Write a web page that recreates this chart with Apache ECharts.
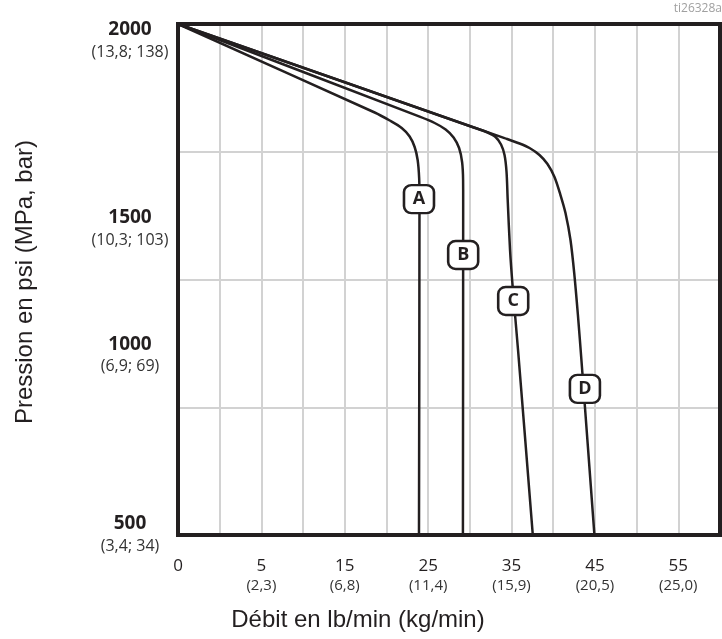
<!DOCTYPE html>
<html>
<head>
<meta charset="utf-8">
<script src="https://cdn.jsdelivr.net/npm/echarts@6/dist/echarts.min.js"></script>
<style>html,body{margin:0;padding:0;background:#fff;}#c{width:722px;height:639px;}</style>
</head>
<body>
<div id="c"></div>
<script>
// Flow (lb/min, axis value; the first gridline is labelled "0") vs pressure (psi)
const curveA = [[-5,2000],[18.59,1740.2],[20.39,1716.7],[21.83,1694.7],[22.78,1669.8],[23.38,1638.9],[23.74,1600.8],[23.92,1547.9],[23.96,1483.4],[23.9,500]];
const curveB = [[-5,2000],[23.98,1727.9],[25.78,1709.4],[27.1,1690.3],[28.05,1666.8],[28.71,1636],[29.07,1594.9],[29.19,1542.1],[29.2,1483.4],[29.17,500]];
const curveC = [[-5,2000],[30.57,1695.6],[32.13,1681.5],[33.08,1668.3],[33.74,1646.3],[34.16,1615.5],[34.4,1565.6],[34.54,1483.4],[34.82,1336.6],[35.12,1233.9],[35.78,1043.1],[37.55,500]];
const curveD = [[-5,2000],[30.57,1695.6],[34.16,1665.1],[35.96,1649.2],[37.16,1636],[38.35,1615.5],[39.31,1589],[40.15,1550.9],[40.87,1498],[41.47,1445.2],[42.07,1365.9],[42.54,1263.2],[42.96,1145.8],[43.38,1013.7],[44.16,758.3],[44.94,500]];
const curveNames = ['A','B','C','D'];
const curveLabelAt = [[23.9,1486],[29.2,1322],[35.2,1187],[43.8,929]];

const xTickAt = [-5,5,15,25,35,45,55];
const xTickLabels = ['0','5','15','25','35','45','55'];
const xTickMetric = ['','(2,3)','(6,8)','(11,4)','(15,9)','(20,5)','(25,0)'];

const yTickAt = [1950,1398,1028,500];
const yTickLabels = ['2000','1500','1000','500'];
const yTickMetric = ['(13,8; 138)','(10,3; 103)','(6,9; 69)','(3,4; 34)'];

const INK = '#231f20';
const FONT = '"Open Sans", sans-serif';
const chart = echarts.init(document.getElementById('c'), null, {renderer:'canvas'});

const curves = [curveA, curveB, curveC, curveD];
const series = curves.map((d, i) => ({
  type: 'line', name: curveNames[i], data: d, xAxisIndex: 0, yAxisIndex: 1,
  showSymbol: false, smooth: 0.3, z: 3,
  lineStyle: {color: INK, width: 2.5}
}));
series.push({
  type: 'scatter', xAxisIndex: 0, yAxisIndex: 1, z: 5,
  symbol: 'roundRect', symbolSize: [30, 28],
  itemStyle: {color: '#ffffff', borderColor: INK, borderWidth: 2.5, opacity: 1},
  data: curveLabelAt.map((p, i) => ({value: p, name: curveNames[i]})),
  label: {
    show: true, position: 'inside', formatter: p => p.name,
    fontFamily: FONT, fontWeight: 'bold', fontSize: 18, color: INK,
    textBorderWidth: 0
  },
  emphasis: {disabled: true}
});

chart.setOption({
  animation: false,
  backgroundColor: '#fff',
  grid: {left: 178, top: 24, width: 542, height: 511, show: true, borderColor: INK, borderWidth: 4, backgroundColor: 'transparent', z: 4},
  xAxis: [{
    type: 'value', min: -5, max: 60, interval: 5,
    axisLine: {show: false}, axisTick: {show: false},
    splitLine: {show: true, showMinLine: false, showMaxLine: false, lineStyle: {color: '#d2d2d2', width: 2}},
    axisLabel: {
      customValues: xTickAt, margin: 21, color: INK, fontFamily: FONT,
      formatter: v => {
        const i = xTickAt.indexOf(v);
        if (i < 0) return '';
        return xTickMetric[i] ? '{n|' + xTickLabels[i] + '}\n{m|' + xTickMetric[i] + '}' : '{n|' + xTickLabels[i] + '}';
      },
      rich: {
        n: {fontSize: 17, lineHeight: 20, color: INK, fontFamily: FONT},
        m: {fontSize: 15, lineHeight: 19, color: '#333', fontFamily: FONT}
      }
    }
  }],
  yAxis: [{
    type: 'value', min: 0, max: 4, interval: 1,
    axisLine: {show: false}, axisTick: {show: false}, axisLabel: {show: false},
    splitLine: {show: true, showMinLine: false, showMaxLine: false, lineStyle: {color: '#d2d2d2', width: 2}}
  }, {
    type: 'value', min: 500, max: 2000, position: 'left',
    axisLine: {show: false}, axisTick: {show: false}, splitLine: {show: false},
    axisLabel: {
      customValues: yTickAt, margin: 48, align: 'center', color: INK, fontFamily: FONT,
      formatter: v => {
        const i = yTickAt.indexOf(v);
        if (i < 0) return '';
        return '{b|' + yTickLabels[i] + '}\n{m|' + yTickMetric[i] + '}';
      },
      rich: {
        b: {fontSize: 19, fontWeight: 'bold', lineHeight: 22, color: INK, fontFamily: FONT, align: 'center'},
        m: {fontSize: 16, lineHeight: 22, color: '#333', fontFamily: FONT, align: 'center'}
      }
    }
  }],
  series: series,
  graphic: [
    {type: 'text', x: 25, y: 282, rotation: Math.PI / 2,
     style: {text: 'Pression en psi (MPa, bar)', font: '24px "Liberation Sans", Arial, sans-serif', fill: INK, align: 'center', verticalAlign: 'middle', textAlign: 'center', textVerticalAlign: 'middle'}},
    {type: 'text', x: 358, y: 620,
     style: {text: 'Débit en lb/min (kg/min)', font: '24px "Liberation Sans", Arial, sans-serif', fill: INK, align: 'center', verticalAlign: 'middle', textAlign: 'center', textVerticalAlign: 'middle'}},
    {type: 'text', x: 722, y: 9,
     style: {text: 'ti26328a', font: '12px "Open Sans", sans-serif', fill: '#a0a0a0', align: 'right', verticalAlign: 'middle', textAlign: 'right', textVerticalAlign: 'middle'}}
  ]
});
</script>
</body>
</html>
